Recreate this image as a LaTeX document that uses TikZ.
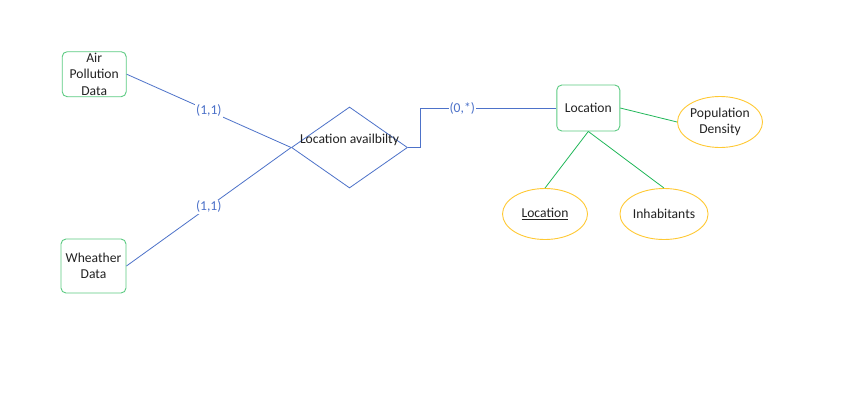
\documentclass[tikz,border=0pt]{standalone}
\usepackage{fontspec}
\setmainfont{Carlito}
\usetikzlibrary{shapes.geometric}
\definecolor{eblue}{HTML}{4D72C9}
\definecolor{egreen}{HTML}{22B85A}
\definecolor{boxgreen}{HTML}{5CCB82}
\definecolor{eyellow}{HTML}{FFC933}
\definecolor{txt}{HTML}{222222}
\begin{document}
\begin{tikzpicture}[x=1pt,y=-1pt,
  every node/.style={font=\fontsize{13.6}{16.5}\selectfont, text=txt},
  entity/.style={draw=boxgreen, line width=0.9pt, rounded corners=5pt, inner sep=0pt, align=center},
  attr/.style={draw=eyellow, line width=0.9pt, ellipse, inner sep=0pt, minimum width=85pt, minimum height=51pt, align=center},
  rel/.style={draw=eblue, line width=0.8pt, diamond, inner sep=0pt, minimum width=116pt, minimum height=81pt, aspect=1.43},
  bline/.style={draw=eblue, line width=0.8pt},
  gline/.style={draw=egreen, line width=0.8pt},
  card/.style={fill=white, text=eblue, inner sep=1pt}
]
\useasboundingbox (0,0) rectangle (846,418);
\fill[white] (0,0) rectangle (846,418);

\node[entity, minimum width=64pt, minimum height=45pt] (air) at (94.2,74.2) {Air\\Pollution\\Data};
\node[entity, minimum width=65pt, minimum height=54pt] (wea) at (93.5,266) {Wheather\\Data};
\node[rel] (rel) at (349.5,147.5) {};
\node (reltxt) at (349.5,140) {Location availbilty};
\node[entity, minimum width=63pt, minimum height=46pt] (loc) at (588.3,108) {Location};
\node[attr] (pop) at (720,122) {Population\\Density};
\node[attr] (lkey) at (545,214) {\underline{Location}};
\node[attr] (inh) at (664,214) {Inhabitants};

\draw[bline] (air.east) -- node[card, pos=0.5] {(1,1)} (rel.west);
\draw[bline] (wea.east) -- node[card, pos=0.5] {(1,1)} (rel.west);
\coordinate (k1) at (420,147.5);
\coordinate (k2) at (420,108);
\draw[bline] (rel.east) -- (k1) -- (k2) -- node[card, pos=0.31] {(0,*)} (loc.west);

\draw[gline] (loc.east) -- (pop.west);
\draw[gline] (loc.south) -- (lkey.north);
\draw[gline] (loc.south) -- (inh.north);
\end{tikzpicture}
\end{document}
